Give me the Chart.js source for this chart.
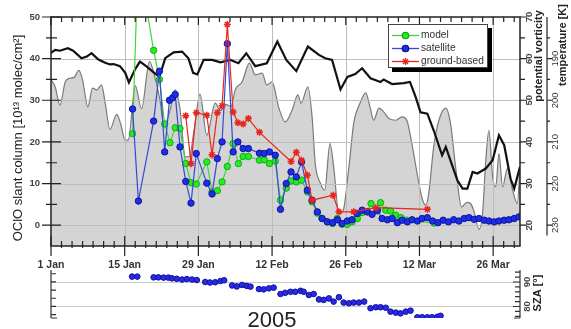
<!DOCTYPE html>
<html>
<head>
<meta charset="utf-8">
<script src="https://cdn.jsdelivr.net/npm/chart.js@4.4.1/dist/chart.umd.min.js"></script>
<style>
  html, body { margin: 0; padding: 0; background: #fff; }
  #wrap { position: relative; width: 571px; height: 329px; }
  canvas { position: absolute; left: 0; top: 0; }
</style>
</head>
<body>
<div id="wrap">
  <canvas id="main" width="571" height="329"></canvas>
  <canvas id="sza" width="571" height="329"></canvas>
</div>
<script>
// days counted from 1 Jan 2005 (= 0)
const dateTickDays = [0, 14, 28, 42, 56, 70, 84];
const dateTickLabels = ["1 Jan", "15 Jan", "29 Jan", "12 Feb", "26 Feb", "12 Mar", "26 Mar"];
const oclOTicks = [0, 10, 20, 30, 40, 50];
const pvTicks = [20, 30, 40, 50, 60, 70];
const tempTicks = [190, 200, 210, 220, 230];
const szaTicks = [80, 90];

// OClO slant columns [1e13 molec/cm2]
const modelDays = [15.5, 16.5, 17.5, 19.5, 20.6, 21.6, 22.6, 23.6, 24.5, 25.6,
  26.6, 27.6, 29.6, 30.6, 31.6, 32.5, 33.5, 34.6, 35.6, 36.5,
  37.5, 39.6, 40.5, 41.5, 42.6, 43.6, 44.7, 45.6, 46.6, 47.6,
  48.7, 49.6, 50.6, 51.5, 52.5, 53.5, 54.4, 55.3, 56.3, 57.2,
  58.2, 59.1, 60.1, 60.8, 62.0, 62.6, 63.6, 64.5, 65.5, 66.5,
  67.5, 72.8];
const modelValues = [22, 62, 57, 42, 35, 24.3, 19.8, 23.4, 23.2, 14.8,
  10.2, 9.9, 15.2, 8, 8.3, 10.4, 14.1, 19.6, 14.8, 16.5,
  16.5, 15.6, 15.7, 14.8, 15.4, 6, 8.9, 10.6, 10.4, 10.8,
  8, 5.6, 2.9, 1.6, 0.8, 0.4, 1.6, 0.2, 0.2, 0.8,
  1.6, 3.0, 3.2, 5.2, 3.4, 5.4, 3.6, 3.4, 2.4, 1.8,
  1.2, 0.5];

const satDays = [15.5, 16.6, 19.5, 20.6, 21.6, 22.5, 23.1, 23.6, 24.5, 25.6,
  26.6, 27.6, 29.6, 30.6, 31.6, 32.5, 33.5, 34.6, 35.5, 36.5,
  37.5, 39.6, 40.5, 41.5, 42.6, 43.6, 44.7, 45.6, 46.6, 47.6,
  48.7, 49.6, 50.6, 51.5, 52.5, 53.5, 54.4, 55.3, 56.3, 57.2,
  58.2, 59.1, 60.1, 61.0, 62.0, 62.9, 63.9, 64.8, 65.8, 66.7,
  67.7, 68.6, 69.6, 70.5, 71.5, 72.5, 73.5, 74.5, 75.5, 76.5,
  77.5, 78.5, 79.4, 80.4, 81.3, 82.3, 83.2, 84.2, 85.1, 86.1,
  87.0, 88.0, 88.9];
const satValues = [27.9, 5.8, 25, 37, 17.6, 30, 30.6, 31.4, 18.8, 10.5,
  5.3, 17.2, 10.1, 7.5, 16, 20, 43.6, 17.6, 20, 18.4,
  18.4, 17.3, 17.2, 17.6, 16.8, 3.8, 10, 12.8, 11.6, 15.2,
  8.4, 6, 3.2, 1.6, 0.8, 0.6, 1.3, 0.4, 1.0, 1.3,
  2.8, 3.6, 3.2, 2.6, 3.6, 1.6, 1.3, 1.6, 0.6, 1.2,
  0.8, 1.3, 1.0, 1.6, 1.8, 1.0, 0.6, 1.2, 0.8, 1.3,
  1.0, 1.6, 1.8, 1.4, 1.6, 1.2, 1.0, 0.8, 1.0, 1.2,
  1.3, 1.6, 2.0];

const groundDays = [25.6, 26.6, 27.6, 29.6, 30.6, 31.6, 32.5, 33.5, 34.6, 35.5,
  36.5, 37.5, 39.6, 45.6, 46.6, 47.6, 48.7, 49.6, 53.6, 54.7,
  57.5, 61.7, 71.5];
const groundValues = [26.3, 14.8, 27, 26.4, 16.9, 27, 28.7, 48.2, 27.2, 24.6,
  24.3, 25.6, 22.3, 15.3, 17.5, 15.6, 12, 6, 7.2, 3.2,
  3.2, 4.2, 3.8];

// temperature [K]
const tempDays = [0, 0.8, 1.7, 3.2, 4.2, 5.8, 6.8, 7.7, 9.0, 10.3,
  11.2, 11.9, 13.1, 14.1, 14.8, 16.0, 16.9, 18.2, 19.5, 20.6,
  21.7, 23.3, 24.9, 26.1, 27.0, 27.8, 29.0, 30.6, 32.2, 34.1,
  35.6, 37.1, 38.8, 41.0, 43.0, 44.7, 46.6, 48.8, 50.9, 52.1,
  53.4, 55.0, 56.3, 57.8, 59.1, 60.7, 62.6, 63.2, 64.8, 67.0,
  68.2, 69.3, 70.2, 71.5, 72.7, 74.3, 75.0, 77.2, 78.2, 79.1,
  80.1, 81.0, 82.6, 83.9, 85.1, 86.1, 87.3, 88.0, 89.1];
const tempValues = [188.6, 187.9, 188.1, 187.5, 188.1, 189.9, 189.5, 188.7, 190.2, 191.0,
  191.4, 191.3, 191.8, 193.4, 195.7, 192.5, 190.7, 191.9, 193.3, 194.4,
  189.9, 188.5, 188.3, 189.9, 193.4, 193.8, 190.3, 190.3, 190.9, 190.3,
  191.1, 188.7, 191.8, 191.1, 185.9, 190.3, 193.0, 187.1, 189.1, 189.9,
  190.3, 197.4, 194.4, 193.7, 192.3, 194.7, 195.6, 195.0, 196.1, 195.9,
  195.6, 199.3, 202.9, 203.2, 207.2, 213.2, 211.2, 219.2, 221.2, 221.2,
  217.2, 217.6, 216.4, 214.4, 208.4, 210.8, 218.8, 221.2, 216];

// potential vorticity
const pvDays = [0, 0.8, 1.7, 2.7, 3.6, 4.4, 5.3, 6.0, 7.0, 7.9,
  8.7, 9.6, 10.3, 11.2, 12.5, 13.3, 14.1, 14.7, 16.0, 17.2,
  18.7, 19.8, 20.7, 21.5, 22.5, 23.6, 24.5, 25.5, 26.3, 27.2,
  28.3, 29.6, 31.2, 32.2, 33.2, 34.2, 35.0, 36.3, 37.7, 38.8,
  40.1, 41.0, 42.0, 43.3, 44.5, 45.8, 46.9, 47.5, 48.8, 49.6,
  50.2, 51.2, 52.0, 53.0, 53.7, 54.7, 55.5, 56.6, 57.5, 58.7,
  59.8, 60.6, 61.3, 62.3, 63.2, 64.2, 65.5, 66.7, 67.6, 68.2,
  69.0, 69.9, 70.5, 71.2, 71.8, 72.7, 73.7, 75.0, 75.9, 76.9,
  78.0, 79.0, 79.7, 80.4, 81.3, 82.0, 82.6, 83.2, 83.9, 84.5,
  85.1, 85.8, 86.7, 87.7, 88.6, 89.1];
const pvValues = [55, 53.2, 48.8, 54.4, 55.3, 55.5, 57.2, 54.9, 48.4, 52.9,
  52.5, 53.7, 49.3, 43, 46.6, 44, 40.4, 40.5, 53.5, 48,
  59.3, 55.2, 50, 44, 47, 52.5, 48, 36.4, 36.5, 43,
  51.5, 41.6, 49.3, 47.5, 49, 48.5, 52.5, 54.4, 58.9, 56.1,
  56.5, 53.7, 54.4, 48.1, 44.8, 47.6, 51.3, 49.3, 53.2, 46,
  34.8, 30, 28.4, 39.6, 34, 22.8, 23.5, 34, 44.4, 49.3,
  51.8, 48.4, 45.2, 48.1, 47.2, 45.6, 45.2, 46, 45.2, 42,
  36.4, 30, 26.4, 24.8, 28, 38.8, 45.2, 48.1, 44.4, 33.6,
  24.4, 25.5, 25.2, 23.2, 19, 23, 35.6, 42.8, 31.6, 29.2,
  37.2, 29.2, 33.6, 28.4, 25.2, 34];

// solar zenith angle of the satellite measurements [deg]
const szaDays = [15.4, 16.4, 19.5, 20.4, 21.4, 22.3, 23.0, 23.9, 24.9, 25.8,
  26.8, 27.7, 29.3, 30.2, 31.2, 32.2, 32.9, 34.4, 35.3, 36.3,
  37.2, 37.9, 39.5, 40.4, 41.4, 42.3, 43.6, 44.5, 45.5, 46.4,
  47.4, 48.0, 49.0, 49.9, 50.9, 51.8, 52.8, 53.7, 54.7, 55.6,
  56.6, 57.5, 58.5, 59.5, 60.7, 61.7, 62.6, 63.6, 64.5, 65.5,
  66.4, 67.4, 68.3, 69.6, 70.5, 71.5, 72.4, 73.4, 74.0];
const szaValues = [92.2, 92.2, 91.9, 91.9, 91.8, 91.8, 91.5, 91.3, 91.0, 91.2,
  91.0, 90.8, 90.0, 89.8, 89.9, 90.4, 90.7, 88.6, 88.2, 88.8,
  88.4, 88.1, 87.1, 87.0, 87.4, 87.7, 85.1, 85.6, 86.0, 86.0,
  86.4, 86.0, 84.7, 85.1, 82.9, 82.7, 83.3, 82.0, 83.8, 81.6,
  81.3, 81.6, 81.6, 82.0, 79.3, 79.7, 79.7, 79.5, 77.9, 77.5,
  77.2, 77.9, 78.3, 75.6, 75.6, 75.6, 75.6, 75.8, 76.2];

const FONT = "'Liberation Sans', Arial, sans-serif";

function pts(xs, ys) {
  return xs.map((d, i) => ({x: d, y: ys[i]}));
}

function vText(ctx, text, x, y, font, color) {
  ctx.save();
  ctx.translate(x, y);
  ctx.rotate(-Math.PI / 2);
  ctx.font = font;
  ctx.fillStyle = color;
  ctx.textAlign = "center";
  ctx.textBaseline = "middle";
  ctx.fillText(text, 0, 0);
  ctx.restore();
}

function hLine(ctx, x1, x2, y) {
  ctx.moveTo(x1, y);
  ctx.lineTo(x2, y);
}

function vLine(ctx, x, y1, y2) {
  ctx.moveTo(x, y1);
  ctx.lineTo(x, y2);
}

const legendItems = [
  {label: "model", color: "#3fd43f", fill: "#22ee22", edge: "#18a818", style: "circle"},
  {label: "satellite", color: "#3548d6", fill: "#1f2de8", edge: "#0c1699", style: "circle"},
  {label: "ground-based", color: "#e8261e", fill: "#e8261e", edge: "#e8261e", style: "star"},
];

const mainDecor = {
  id: "mainDecor",
  afterDatasetDraw(chart, args) {
    // grid goes over the PV shading but under the other lines
    if (args.index !== 4) return;
    const {ctx, chartArea: a, scales} = chart;
    ctx.save();
    ctx.strokeStyle = "#bdbdbd";
    ctx.lineWidth = 1;
    ctx.beginPath();
    dateTickDays.forEach((d) => {
      if (d <= scales.x.min) return;
      const px = Math.round(scales.x.getPixelForValue(d)) + 0.5;
      vLine(ctx, px, a.top, a.bottom);
    });
    oclOTicks.forEach((v) => {
      if (v >= scales.y.max) return;
      const py = Math.round(scales.y.getPixelForValue(v)) + 0.5;
      hLine(ctx, a.left, a.right, py);
    });
    ctx.stroke();
    ctx.restore();
  },
  afterDatasetsDraw(chart) {
    const {ctx, chartArea: a, scales} = chart;
    const {x, y, pv, temp} = scales;
    ctx.save();

    // frame
    ctx.strokeStyle = "#222";
    ctx.lineWidth = 1.5;
    ctx.strokeRect(a.left, a.top, a.right - a.left, a.bottom - a.top);

    // left axis ticks (inward and outward)
    ctx.lineWidth = 1.2;
    ctx.beginPath();
    for (let v = 0; v <= 50; v += 5) {
      const py = y.getPixelForValue(v);
      if (v % 10 === 0) hLine(ctx, a.left - 9, a.left + 10, py);
      else hLine(ctx, a.left - 5, a.left + 6, py);
    }
    // bottom and top date ticks
    for (let d = 0; d <= 88; d += 2) {
      const px = x.getPixelForValue(d);
      if (d % 14 === 0) {
        vLine(ctx, px, a.bottom - 10, a.bottom + 10);
        vLine(ctx, px, a.top, a.top + 8);
      } else {
        vLine(ctx, px, a.bottom - 5, a.bottom + 2);
        vLine(ctx, px, a.top, a.top + 5);
      }
    }
    // right (potential vorticity) ticks
    for (let p = 20; p <= 70; p += 5) {
      const py = pv.getPixelForValue(p);
      hLine(ctx, a.right, a.right + (p % 10 === 0 ? 7 : 5), py);
    }
    ctx.stroke();

    // temperature axis
    const tx = a.right + 27;
    ctx.beginPath();
    vLine(ctx, tx, a.top, temp.getPixelForValue(232.5));
    for (let t = 185; t <= 232.5; t += 5) {
      const py = temp.getPixelForValue(t);
      hLine(ctx, tx, tx + (t % 10 === 0 ? 5 : 3), py);
    }
    ctx.stroke();

    // tick labels
    ctx.fillStyle = "#444";
    ctx.font = "bold 9.5px " + FONT;
    ctx.textAlign = "right";
    ctx.textBaseline = "middle";
    oclOTicks.forEach((v) => ctx.fillText(String(v), a.left - 11, y.getPixelForValue(v)));

    ctx.fillStyle = "#333";
    ctx.font = "bold 10.5px " + FONT;
    ctx.textAlign = "center";
    ctx.textBaseline = "alphabetic";
    dateTickDays.forEach((d, i) => ctx.fillText(dateTickLabels[i], x.getPixelForValue(d), a.bottom + 22));

    pvTicks.forEach((p) => vText(ctx, String(p), a.right + 9, pv.getPixelForValue(p), "bold 9.5px " + FONT, "#444"));
    tempTicks.forEach((t) => vText(ctx, String(t), tx + 8, temp.getPixelForValue(t), "9.5px " + FONT, "#333"));

    // axis titles
    vText(ctx, "OClO slant column [10\u00b9\u00b3 molec/cm\u00b2]", 18, 138, "13px " + FONT, "#222");
    vText(ctx, "potential vorticity", a.right + 19, 56, "bold 11px " + FONT, "#222");
    vText(ctx, "temperature [K]", tx + 16, 45, "bold 11px " + FONT, "#222");

    // legend box with shadow
    const lx = 388, ly = 24, lw = 100, lh = 44;
    ctx.fillStyle = "#000";
    ctx.fillRect(lx + 4, ly + 4, lw, lh);
    ctx.fillStyle = "#fff";
    ctx.fillRect(lx, ly, lw, lh);
    ctx.strokeStyle = "#444";
    ctx.lineWidth = 1;
    ctx.strokeRect(lx + 0.5, ly + 0.5, lw - 1, lh - 1);
    legendItems.forEach((it, i) => {
      const iy = ly + 11.5 + i * 13;
      ctx.strokeStyle = it.color;
      ctx.lineWidth = 1.3;
      ctx.beginPath();
      hLine(ctx, lx + 4, lx + 31, iy);
      ctx.stroke();
      ctx.fillStyle = it.fill;
      ctx.strokeStyle = it.edge;
      Chart.helpers.drawPoint(ctx, {pointStyle: it.style, radius: it.style === "star" ? 3.5 : 3.2, rotation: 0, borderWidth: it.style === "star" ? 1.5 : 1}, lx + 17.5, iy);
      ctx.fillStyle = "#333";
      ctx.font = "10.2px " + FONT;
      ctx.textAlign = "left";
      ctx.textBaseline = "middle";
      ctx.fillText(it.label, lx + 33, iy);
    });

    ctx.restore();
  },
};

new Chart(document.getElementById("main"), {
  type: "line",
  data: {
    datasets: [
      {
        label: "ground-based",
        data: pts(groundDays, groundValues),
        yAxisID: "y",
        borderColor: "#e8261e",
        backgroundColor: "#e8261e",
        borderWidth: 1.2,
        pointStyle: "star",
        pointRadius: 3.5,
        pointBorderWidth: 1.5,
      },
      {
        label: "satellite",
        data: pts(satDays, satValues),
        yAxisID: "y",
        borderColor: "#3548d6",
        borderWidth: 1.2,
        pointBackgroundColor: "#1f2de8",
        pointBorderColor: "#0c1699",
        pointBorderWidth: 1,
        pointRadius: 3.2,
      },
      {
        label: "model",
        data: pts(modelDays, modelValues),
        yAxisID: "y",
        borderColor: "#3fd43f",
        borderWidth: 1.2,
        pointBackgroundColor: "#22ee22",
        pointBorderColor: "#18a818",
        pointBorderWidth: 1,
        pointRadius: 3.2,
      },
      {
        label: "temperature",
        data: pts(tempDays, tempValues),
        yAxisID: "temp",
        borderColor: "#111",
        borderWidth: 2.2,
        pointRadius: 0,
        tension: 0,
      },
      {
        label: "potential vorticity",
        data: pts(pvDays, pvValues),
        yAxisID: "pv",
        borderColor: "#7a7a7a",
        borderWidth: 1.2,
        backgroundColor: "#d4d4d4",
        fill: "start",
        pointRadius: 0,
        tension: 0.4,
        cubicInterpolationMode: "monotone",
      },
    ],
  },
  options: {
    responsive: false,
    animation: false,
    devicePixelRatio: 1,
    events: [],
    layout: {padding: {left: 51, right: 51, top: 17, bottom: 83}},
    plugins: {legend: {display: false}, tooltip: {enabled: false}},
    scales: {
      x: {type: "linear", min: 0, max: 89.1, display: false},
      y: {min: -5, max: 50, display: false},
      pv: {position: "right", min: 15, max: 70, display: false},
      temp: {position: "right", min: 180, max: 235, reverse: true, display: false},
    },
  },
  plugins: [mainDecor],
});

const szaDecor = {
  id: "szaDecor",
  beforeDatasetsDraw(chart) {
    const {ctx, chartArea: a, scales: {y}} = chart;
    ctx.save();
    ctx.strokeStyle = "#c8c8c8";
    ctx.lineWidth = 1;
    ctx.beginPath();
    szaTicks.forEach((s) => hLine(ctx, a.left, a.right, Math.round(y.getPixelForValue(s)) + 0.5));
    ctx.stroke();
    ctx.restore();
  },
  afterDatasetsDraw(chart) {
    const {ctx, chartArea: a, scales: {y}} = chart;
    ctx.save();
    ctx.strokeStyle = "#333";
    ctx.lineWidth = 1.2;
    ctx.beginPath();
    vLine(ctx, a.left, a.top, a.bottom);
    vLine(ctx, a.right, a.top, a.bottom);
    for (let s = 76.7; s <= 94; s += 10 / 3) {
      hLine(ctx, a.left, a.left + 5, y.getPixelForValue(s));
    }
    hLine(ctx, a.left, a.left + 6, a.bottom);
    for (let s = 76; s <= 94; s += 2) {
      hLine(ctx, a.right - (s % 10 === 0 ? 7 : 5), a.right, y.getPixelForValue(s));
    }
    hLine(ctx, a.right - 6, a.right, a.bottom);
    ctx.stroke();

    szaTicks.forEach((s) => vText(ctx, String(s), a.right + 7, y.getPixelForValue(s), "bold 9.5px " + FONT, "#444"));
    vText(ctx, "SZA [\u00b0]", a.right + 18, 293, "bold 11px " + FONT, "#222");

    ctx.fillStyle = "#222";
    ctx.font = "22px " + FONT;
    ctx.textAlign = "center";
    ctx.textBaseline = "alphabetic";
    ctx.fillText("2005", 272, 327);
    ctx.restore();
  },
};

new Chart(document.getElementById("sza"), {
  type: "scatter",
  data: {
    datasets: [
      {
        label: "SZA",
        data: pts(szaDays, szaValues),
        pointRadius: 2.8,
        pointBackgroundColor: "#2a2ae6",
        pointBorderColor: "#1010a0",
        pointBorderWidth: 1,
        showLine: false,
      },
    ],
  },
  options: {
    responsive: false,
    animation: false,
    devicePixelRatio: 1,
    events: [],
    layout: {padding: {left: 51, right: 51, top: 270, bottom: 11}},
    plugins: {legend: {display: false}, tooltip: {enabled: false}},
    scales: {
      x: {type: "linear", min: 0, max: 89.1, display: false},
      y: {min: 75.3, max: 94.9, display: false},
    },
  },
  plugins: [szaDecor],
});
</script>
</body>
</html>
